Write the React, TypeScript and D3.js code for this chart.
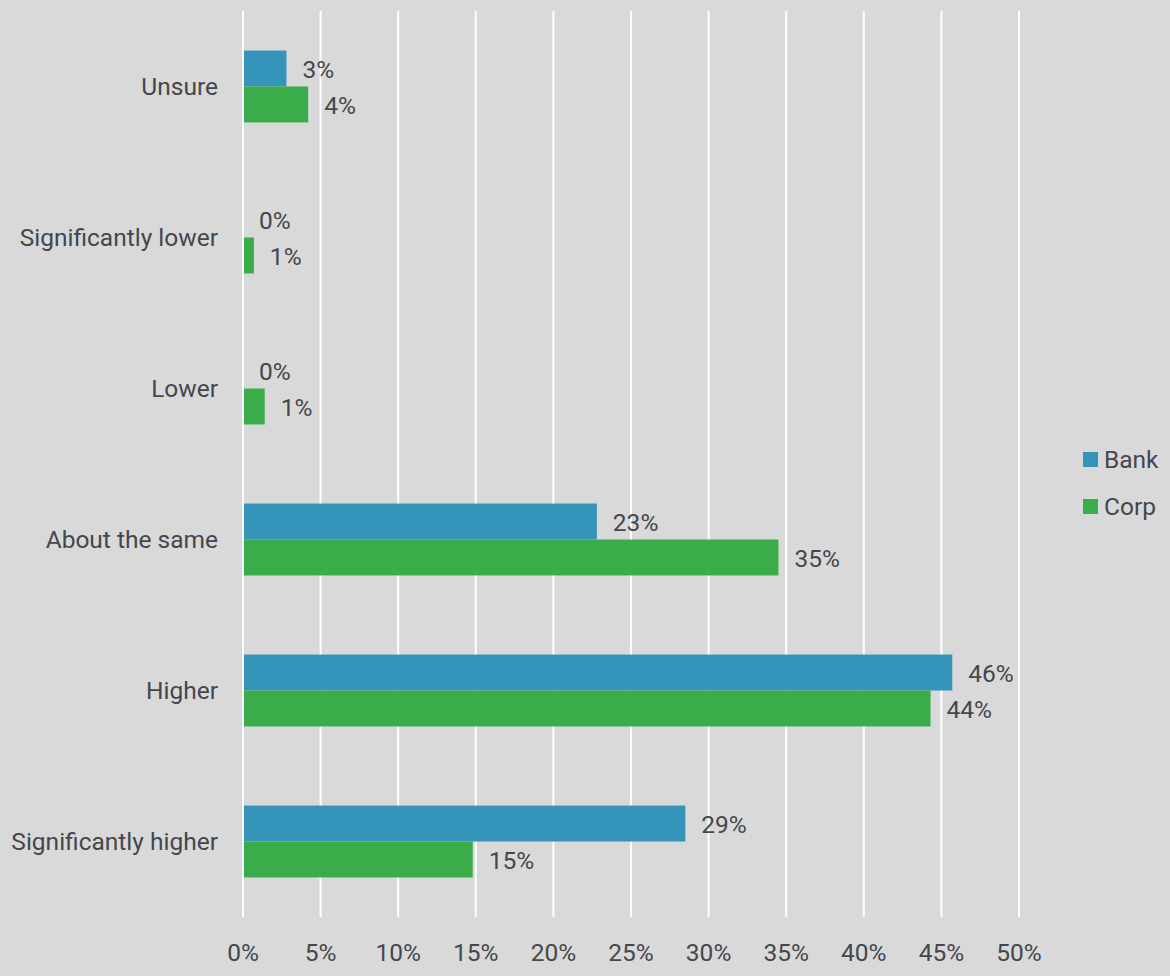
import React, { useLayoutEffect } from "react";
import * as d3 from "d3";

const categories = ["Unsure", "Significantly lower", "Lower", "About the same", "Higher", "Significantly higher"];
const seriesNames = ["Bank", "Corp"];
const bankValues = [2.8, 0, 0, 22.8, 45.7, 28.5];
const corpValues = [4.2, 0.7, 1.4, 34.5, 44.3, 14.8];
const xTicks = [0, 5, 10, 15, 20, 25, 30, 35, 40, 45, 50];
const colors = ["#3494ba", "#3aad4a"];

const W = 1170;
const H = 976;
const left = 243;
const right = 1019;
const top = 11;
const bottom = 917;
const textColor = "#44474d";
const font = "Roboto, 'Noto Sans', sans-serif";
const fs = 24.5;

export default function App() {
  useLayoutEffect(() => {
    document.body.style.margin = "0";
    document.body.style.background = "#d9d9d9";
  }, []);

  const x = d3.scaleLinear().domain([0, 50]).range([left, right]);
  const y0 = d3.scaleBand<string>().domain(categories).range([top, bottom]).paddingInner(0.5238).paddingOuter(0.2619);
  const y1 = d3.scaleBand<string>().domain(seriesNames).range([0, y0.bandwidth()]);
  const series = [bankValues, corpValues];

  return (
    <svg width={W} height={H} style={{ display: "block", background: "#d9d9d9", fontFamily: font }}>
      <rect width={W} height={H} fill="#d9d9d9" />
      {xTicks.map((t) => (
        <g key={t}>
          <line x1={x(t)} x2={x(t)} y1={top} y2={bottom} stroke="#ffffff" strokeWidth={2} />
          <text x={x(t)} y={955} textAnchor="middle" dominantBaseline="middle" fontSize={fs} fill={textColor}>
            {t}%
          </text>
        </g>
      ))}
      {categories.map((c, i) => (
        <g key={c}>
          <text x={218} y={(y0(c) ?? 0) + y0.bandwidth() / 2 + 2} textAnchor="end" dominantBaseline="middle" fontSize={fs} fill={textColor}>
            {c}
          </text>
          {seriesNames.map((s, j) => {
            const v = series[j][i];
            const yy = (y0(c) ?? 0) + (y1(s) ?? 0);
            return (
              <g key={s}>
                {v > 0 && (
                  <rect x={x(0) + 1} y={yy} width={x(v) - x(0) - 1} height={y1.bandwidth()} fill={colors[j]} />
                )}
                <text x={x(v) + 16} y={yy + y1.bandwidth() / 2 + 3} dominantBaseline="middle" fontSize={fs} fill={textColor}>
                  {Math.round(v)}%
                </text>
              </g>
            );
          })}
        </g>
      ))}
      {seriesNames.map((s, j) => (
        <g key={s} transform={`translate(1083, ${452 + j * 47})`}>
          <rect width={15} height={15} fill={colors[j]} />
          <text x={21} y={10} dominantBaseline="middle" fontSize={fs} fill={textColor}>
            {s}
          </text>
        </g>
      ))}
    </svg>
  );
}
